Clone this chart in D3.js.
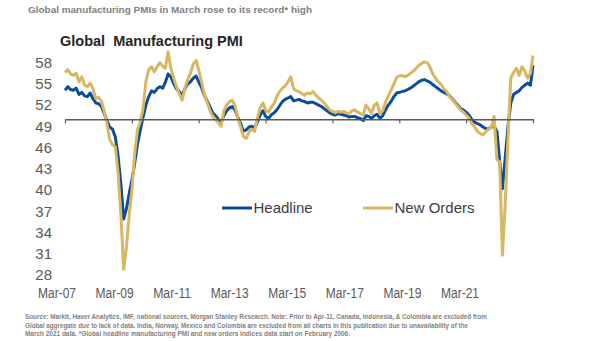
<!DOCTYPE html>
<html>
<head>
<meta charset="utf-8">
<script src="https://cdn.jsdelivr.net/npm/d3@7"></script>
<style>
  body { margin: 0; background: #fff; }
  svg { font-family: "Liberation Sans", Arial, sans-serif; display: block; }
</style>
</head>
<body>
<svg id="chart" width="605" height="341"></svg>
<script>
// monthly series, Mar-07 .. Mar-21
const startMonth = 'Mar-07';

const headline = [
  54.1, 54.6, 54.2, 54.1, 54.4, 53.5, 53.8, 53.3, 53.2, 53.7,
  52.9, 52.3, 52.2, 51.8, 50.9, 49.8, 48.9, 48.6, 47.5, 44.8, 40.8, 35.9,
  37.4, 39.6, 41.4, 43.8, 46.5, 48.5, 50.3, 52.0, 53.2, 54.0, 53.8, 54.3,
  54.6, 54.4, 55.2, 56.4, 56.0, 55.0, 54.3, 53.9, 53.4, 54.3, 55.0, 55.3,
  55.8, 56.1, 55.3, 54.5, 53.4, 52.6, 51.8, 50.9, 50.5, 50.0, 49.6, 50.5,
  51.2, 51.6, 51.8, 51.3, 50.3, 49.4, 48.3, 48.5, 48.9, 49.0, 48.8, 49.6,
  50.6, 51.2, 50.4, 50.1, 50.6, 50.9, 51.3, 51.9, 52.5, 52.8, 53.0, 53.2,
  52.6, 52.7, 52.8, 52.6, 52.5, 52.3, 52.4, 52.4, 52.2, 52.0, 51.8, 51.5,
  51.2, 50.9, 50.7, 50.6, 50.8, 50.7, 50.6, 50.5, 50.3, 50.4, 50.4, 50.2,
  50.1, 49.8, 50.5, 50.4, 50.1, 50.5, 50.7, 50.1, 50.5, 51.3, 52.0, 52.5,
  53.2, 53.7, 53.8, 53.9, 54.0, 54.2, 54.4, 54.7, 55.0, 55.3, 55.5, 55.6,
  55.4, 55.2, 54.9, 54.6, 54.3, 54.0, 53.8, 53.6, 53.3, 52.9, 52.4, 52.0,
  51.5, 51.3, 51.0, 50.6, 50.0, 49.6, 49.4, 49.2, 48.9, 48.7, 48.6, 48.9,
  49.0, 48.3, 44.2, 40.2, 44.5, 49.0, 52.3, 53.5, 53.8, 54.0, 54.5, 54.8,
  55.1, 54.8, 57.6
];

const newOrders = [
  56.6, 57.0, 56.4, 56.2, 56.5, 55.3, 56.0, 54.8, 54.6, 55.1,
  54.3, 52.9, 53.1, 52.6, 51.2, 49.4, 47.2, 46.4, 46.1, 42.5, 36.5, 28.8,
  32.0, 36.7, 40.0, 45.2, 48.5, 49.7, 51.5, 55.3, 57.0, 57.4, 56.7, 57.4,
  58.0, 57.5, 57.2, 59.5, 57.2, 55.8, 54.6, 53.6, 52.7, 54.4, 55.6, 56.5,
  57.8, 58.3, 57.0, 55.3, 53.5, 52.4, 51.3, 50.4, 50.0, 49.5, 49.0, 51.2,
  52.0, 52.5, 52.7, 51.9, 50.2, 48.9, 47.6, 47.3, 48.2, 48.6, 48.3, 50.2,
  51.6, 52.3, 51.3, 51.0, 51.7, 52.2, 53.2, 53.9, 54.4, 54.7, 55.3, 56.0,
  54.3, 54.0, 53.9, 53.6, 53.4, 53.7, 53.6, 53.9, 53.4, 53.0, 52.7, 52.3,
  51.8, 51.3, 51.1, 50.9, 51.1, 51.0, 51.1, 50.9, 50.8, 51.2, 51.3, 51.0,
  50.8, 50.6, 52.0, 51.5, 50.8, 52.0, 52.3, 50.8, 51.2, 52.4, 53.3, 54.1,
  55.0, 55.9, 56.1, 56.2, 56.0, 56.2, 56.5, 56.8, 57.2, 57.6, 57.9, 58.1,
  58.0, 57.3, 56.4, 55.8, 55.3, 54.9, 54.3, 53.9, 53.2, 52.8, 52.3, 51.8,
  51.3, 51.0, 50.6, 50.2, 49.4, 49.0, 48.3, 48.0, 47.8, 48.2, 48.6, 48.8,
  50.4, 44.3, 44.0, 30.8, 38.0, 47.5, 55.8, 56.6, 57.2, 56.2, 57.4, 56.8,
  55.8, 56.5, 59.0
];

const xTickLabels = ['Mar-07', 'Mar-09', 'Mar-11', 'Mar-13', 'Mar-15', 'Mar-17', 'Mar-19', 'Mar-21'];
const yTickValues = [58, 55, 52, 49, 46, 43, 40, 37, 34, 31, 28];
const baseline = 50;

const seriesNames = ['Headline', 'New Orders'];
const seriesColours = ['#0b4c9c', '#d9b660'];

const sourceLines = [
  'Source: Markit, Haver Analytics, IMF, national sources, Morgan Stanley Research. Note: Prior to Apr-11, Canada, Indonesia, & Colombia are excluded from',
  'Global aggregate due to lack of data. India, Norway, Mexico and Colombia are excluded from all charts in this publication due to unavailability of the',
  'March 2021 data. *Global headline manufacturing PMI and new orders indices data start on February 2006.'
];

const parseMonth = d3.timeParse('%b-%y');
const start = parseMonth(startMonth);
const months = headline.map((_, i) => d3.timeMonth.offset(start, i));

const svg = d3.select('#chart');

const x = d3.scaleTime()
  .domain([start, months[months.length - 1]])
  .range([65, 533]);

const y = d3.scaleLinear()
  .domain([28, 58])
  .range([275, 62.6]);

// labels sit on their own evenly spaced positions, as in the source graphic
const xLabel = d3.scalePoint()
  .domain(xTickLabels)
  .range([57, 460]);

// header text
svg.append('text')
  .attr('x', 28).attr('y', 13)
  .attr('font-size', 9).attr('font-weight', 'bold')
  .attr('fill', '#808080')
  .attr('textLength', 284).attr('lengthAdjust', 'spacingAndGlyphs')
  .text('Global manufacturing PMIs in March rose to its record* high');

svg.append('text')
  .attr('x', 60).attr('y', 46)
  .attr('font-size', 14.5).attr('font-weight', 'bold')
  .attr('fill', '#262626')
  .style('white-space', 'pre')
  .text('Global  Manufacturing PMI');

// y labels (no axis line)
svg.append('g')
  .selectAll('text')
  .data(yTickValues)
  .join('text')
  .attr('x', 52)
  .attr('y', d => y(d))
  .attr('dy', '0.35em')
  .attr('text-anchor', 'end')
  .attr('font-size', 15)
  .attr('fill', '#595959')
  .text(d => d);

// x labels
svg.append('g')
  .selectAll('text')
  .data(xTickLabels)
  .join('text')
  .attr('x', d => xLabel(d))
  .attr('y', 298)
  .attr('text-anchor', 'middle')
  .attr('font-size', 15.5)
  .attr('fill', '#595959')
  .attr('textLength', 38).attr('lengthAdjust', 'spacingAndGlyphs')
  .text(d => d);

// series lines
const line = values => d3.line()
  .x((d, i) => x(months[i]))
  .y(d => y(d))(values);

svg.append('g')
  .selectAll('path')
  .data([headline, newOrders])
  .join('path')
  .attr('d', d => line(d))
  .attr('fill', 'none')
  .attr('stroke', (d, i) => seriesColours[i])
  .attr('stroke-width', 3)
  .attr('stroke-linejoin', 'round');

// 50 line with tick marks
const xAxis = svg.append('g')
  .attr('transform', `translate(0,${y(baseline)})`)
  .call(d3.axisBottom(x)
    .tickValues(xTickLabels.map(parseMonth))
    .tickSize(4)
    .tickSizeOuter(0)
    .tickFormat(''));
xAxis.select('.domain').attr('stroke', '#595959').attr('stroke-width', 1.5);
xAxis.selectAll('.tick line').attr('stroke', '#595959').attr('stroke-width', 1.2);

// legend
const legendX = [222, 363];
const legend = svg.append('g')
  .selectAll('g')
  .data(seriesNames)
  .join('g')
  .attr('transform', (d, i) => `translate(${legendX[i]},208)`);

legend.append('line')
  .attr('x1', 0).attr('x2', 30)
  .attr('stroke', (d, i) => seriesColours[i])
  .attr('stroke-width', 3);

legend.append('text')
  .attr('x', 31.5)
  .attr('dy', '0.35em')
  .attr('font-size', 15)
  .attr('fill', '#404040')
  .text(d => d);

// source note
const sourceWidths = [462, 443, 325];
svg.append('g')
  .selectAll('text')
  .data(sourceLines)
  .join('text')
  .attr('x', 25)
  .attr('y', (d, i) => 319 + i * 8.5)
  .attr('font-size', 7).attr('font-weight', 'bold')
  .attr('fill', '#7f7f7f')
  .attr('textLength', (d, i) => sourceWidths[i])
  .attr('lengthAdjust', 'spacingAndGlyphs')
  .text(d => d);
</script>
</body>
</html>
